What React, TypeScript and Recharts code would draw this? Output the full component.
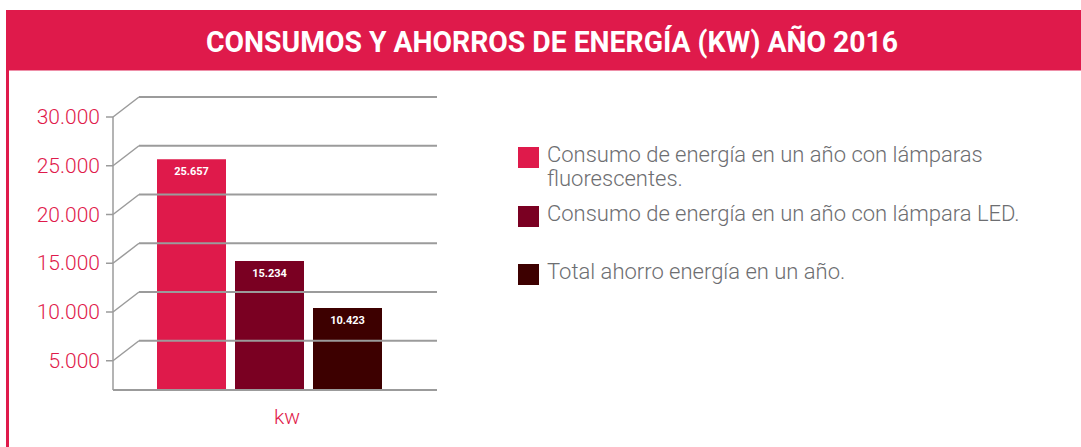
import React from 'react';
import { BarChart, Bar, XAxis, YAxis, LabelList } from 'recharts';

const TITLE = 'CONSUMOS Y AHORROS DE ENERGÍA (KW) AÑO 2016';
const categories = ['kw'];
const seriesKeys = ['fluorescentes', 'led', 'ahorro'];
const seriesNames = [
  'Consumo de energía en un año con lámparas fluorescentes.',
  'Consumo de energía en un año con lámpara LED.',
  'Total ahorro energía en un año.',
];
const legendLines = [
  ['Consumo de energía en un año con lámparas', 'fluorescentes.'],
  ['Consumo de energía en un año con lámpara LED.'],
  ['Total ahorro energía en un año.'],
];
const fluorescentesValues = [25657];
const ledValues = [15234];
const ahorroValues = [10423];
const yTicks = [5000, 10000, 15000, 20000, 25000, 30000];
const yDomain = [2000, 30000];

const COLORS = ['#DF1A4B', '#7A0022', '#3D0000'];
const RED = '#DF1A4B';
const GRID = '#9B9B9B';
const FONT = 'Roboto, "DejaVu Sans", sans-serif';

const data = categories.map((c, i) => ({
  name: c,
  fluorescentes: fluorescentesValues[i],
  led: ledValues[i],
  ahorro: ahorroValues[i],
}));

const fmt = (v: number) => String(v).replace(/\B(?=(\d{3})+(?!\d))/g, '.');

const AXIS_X = 113;
const DEPTH_X = 26;
const DEPTH_Y = 20;
const GRID_RIGHT = 437;

const YTick = (props: any) => {
  const { y, payload } = props;
  return (
    <g>
      <line x1={AXIS_X - 7} y1={y} x2={AXIS_X} y2={y} stroke={GRID} strokeWidth={1.5} />
      <line x1={AXIS_X} y1={y} x2={AXIS_X + DEPTH_X} y2={y - DEPTH_Y} stroke={GRID} strokeWidth={1.5} />
      <line x1={AXIS_X + DEPTH_X} y1={y - DEPTH_Y} x2={GRID_RIGHT} y2={y - DEPTH_Y} stroke={GRID} strokeWidth={2} />
      <text x={100} y={y + 7} textAnchor="end" fill={RED} fontSize={21} fontWeight={300} fontFamily={FONT}>
        {fmt(payload.value)}
      </text>
    </g>
  );
};

const XTick = (props: any) => {
  const { x, y, payload } = props;
  return (
    <text x={x + 18} y={y + 26} textAnchor="middle" fill={RED} fontSize={21} fontWeight={300} fontFamily={FONT}>
      {payload.value}
    </text>
  );
};

export default function App() {
  return (
    <div style={{ position: 'absolute', left: 0, top: 0, width: 1081, height: 447, background: '#fff', overflow: 'hidden', fontFamily: FONT }}>
      <svg width={1081} height={447} style={{ position: 'absolute', left: 0, top: 0 }}>
        <rect x={6} y={10} width={1075} height={60} fill={RED} />
        <rect x={9} y={70} width={1072} height={1} fill="#EE8FA8" />
        <rect x={6} y={70} width={3} height={377} fill={RED} />
        <text x={206} y={52} fill="#fff" fontSize={30} fontWeight={700} fontFamily={FONT} textLength={692} lengthAdjust="spacingAndGlyphs">
          {TITLE}
        </text>
      </svg>
      <div style={{ position: 'absolute', left: 0, top: 0 }}>
        <BarChart
          width={1081}
          height={447}
          data={data}
          margin={{ top: 117, right: 644, bottom: 17, left: 8 }}
          barSize={69}
          barGap={9}
        >
          <XAxis
            dataKey="name"
            tick={<XTick />}
            tickLine={false}
            axisLine={{ stroke: GRID, strokeWidth: 2 }}
            height={40}
            padding={{ left: 0, right: 12 }}
          />
          <YAxis
            type="number"
            domain={yDomain}
            ticks={yTicks}
            allowDataOverflow
            width={105}
            tick={<YTick />}
            tickLine={false}
            axisLine={{ stroke: GRID, strokeWidth: 1.5 }}
          />
          {seriesKeys.map((k, i) => (
            <Bar key={k} dataKey={k} name={seriesNames[i]} fill={COLORS[i]} isAnimationActive={false}>
              <LabelList
                dataKey={k}
                position="insideTop"
                offset={8}
                formatter={(v: any) => fmt(Number(v))}
                fill="#fff"
                fontSize={11}
                fontWeight={700}
                fontFamily={FONT}
              />
            </Bar>
          ))}
        </BarChart>
      </div>
      <div style={{ position: 'absolute', left: 518, top: 0 }}>
        {legendLines.map((lines, i) => {
          const tops = [147, 206, 264];
          return (
            <div key={i} style={{ position: 'absolute', left: 0, top: tops[i], width: 560 }}>
              <div style={{ position: 'absolute', left: 0, top: 0, width: 21, height: 21, background: COLORS[i] }} />
              <div style={{ position: 'absolute', left: 29, top: -4, color: '#6D6E71', fontSize: 22, fontWeight: 300, lineHeight: '24px', whiteSpace: 'nowrap' }}>
                {lines.map((l, j) => (
                  <div key={j}>{l}</div>
                ))}
              </div>
            </div>
          );
        })}
      </div>
    </div>
  );
}
